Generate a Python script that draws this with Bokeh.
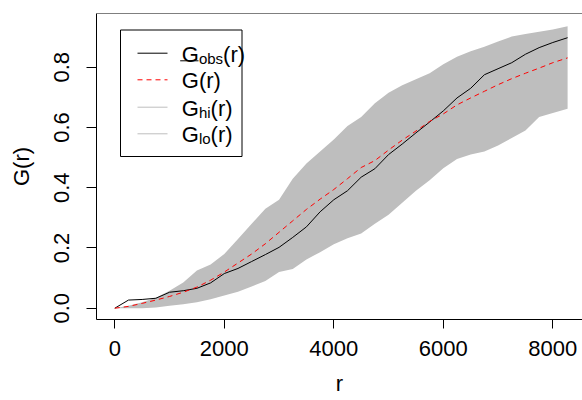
from bokeh.plotting import figure
from bokeh.models import Range1d, FixedTicker, Label, BoxAnnotation, Arrow, Span
from bokeh.embed import file_html
from bokeh.resources import INLINE

# ---- data ----
r = [0, 250, 500, 750, 1000, 1250, 1500, 1750, 2000, 2250, 2500, 2750, 3000,
     3250, 3500, 3750, 4000, 4250, 4500, 4750, 5000, 5250, 5500, 5750, 6000,
     6250, 6500, 6750, 7000, 7250, 7500, 7750, 8000, 8270]
g_obs = [0.0, 0.027, 0.029, 0.033, 0.053, 0.058, 0.066, 0.084, 0.115, 0.132,
         0.155, 0.178, 0.202, 0.235, 0.270, 0.320, 0.360, 0.390, 0.435, 0.463,
         0.510, 0.545, 0.582, 0.618, 0.655, 0.698, 0.730, 0.775, 0.795, 0.815,
         0.843, 0.865, 0.882, 0.898]
g_theo = [0.0, 0.006, 0.016, 0.027, 0.039, 0.053, 0.070, 0.093, 0.120, 0.150,
          0.180, 0.214, 0.252, 0.290, 0.328, 0.362, 0.394, 0.430, 0.467, 0.490,
          0.525, 0.558, 0.588, 0.620, 0.645, 0.675, 0.698, 0.720, 0.742, 0.762,
          0.780, 0.797, 0.815, 0.831]
g_hi = [0.0, 0.008, 0.020, 0.035, 0.058, 0.085, 0.125, 0.145, 0.180, 0.230,
        0.280, 0.330, 0.360, 0.430, 0.480, 0.520, 0.560, 0.605, 0.635, 0.680,
        0.715, 0.740, 0.760, 0.780, 0.810, 0.835, 0.853, 0.868, 0.885, 0.902,
        0.910, 0.918, 0.925, 0.936]
g_lo = [0.0, 0.0, 0.0, 0.002, 0.008, 0.013, 0.020, 0.030, 0.042, 0.055,
        0.072, 0.090, 0.120, 0.130, 0.162, 0.186, 0.212, 0.232, 0.248, 0.280,
        0.310, 0.350, 0.390, 0.425, 0.465, 0.495, 0.510, 0.520, 0.540, 0.565,
        0.590, 0.635, 0.648, 0.662]

x_ticks = [0, 2000, 4000, 6000, 8000]
y_ticks = [0.0, 0.2, 0.4, 0.6, 0.8]
y_tick_labels = ["0.0", "0.2", "0.4", "0.6", "0.8"]
x_title = "r"
y_title = "G(r)"

legend_rows = [("G", "obs", "(r)", "black", None),
               ("G", "", "(r)", "red", "5 4"),
               ("G", "hi", "(r)", "#BEBEBE", None),
               ("G", "lo", "(r)", "#BEBEBE", None)]

FONT = "Liberation Sans"
BAND = "#BEBEBE"

# ---- layout geometry ----
W, H = 582, 400
FL, FR, FT, FB = 96, 582, 13, 319          # frame edges in canvas px
X0, X1 = -334.0, 8542.0
Y0, Y1 = -0.0375, 0.9783

p = figure(width=W, height=H, output_backend="svg", toolbar_location=None,
           x_range=Range1d(X0, X1), y_range=Range1d(Y0, Y1),
           min_border_left=FL, min_border_right=W - FR, min_border_top=FT,
           min_border_bottom=H - FB, background_fill_color="white",
           border_fill_color="white")
p.grid.visible = False
p.outline_line_color = None

p.varea(x=r, y1=g_lo, y2=g_hi, fill_color=BAND, fill_alpha=1.0)
p.line(r, g_obs, line_color="black", line_width=1)
p.line(r, g_theo, line_color="red", line_width=1, line_dash="5 4")

# top border of the box
p.add_layout(Span(location=Y1, dimension="width", line_color="black", line_width=1))

for ax in (p.xaxis[0], p.yaxis[0]):
    ax.axis_line_color = "black"
    ax.axis_line_width = 1
    ax.major_tick_line_color = "black"
    ax.major_tick_in = 0
    ax.minor_tick_line_color = None
    ax.major_label_text_font = FONT
    ax.major_label_text_font_size = "22px"
    ax.major_label_text_color = "black"
    ax.axis_label_text_font = FONT
    ax.axis_label_text_font_size = "22px"
    ax.axis_label_text_font_style = "normal"
    ax.axis_label_text_color = "black"

p.xaxis[0].ticker = FixedTicker(ticks=x_ticks)
p.xaxis[0].major_tick_out = 9
p.xaxis[0].major_label_standoff = 12
p.xaxis[0].axis_label = x_title
p.xaxis[0].axis_label_standoff = 12

p.yaxis[0].ticker = FixedTicker(ticks=y_ticks)
p.yaxis[0].major_label_overrides = {t: s for t, s in zip(y_ticks, y_tick_labels)}
p.yaxis[0].major_tick_out = 10
p.yaxis[0].major_label_standoff = 17
p.yaxis[0].major_label_orientation = "vertical"
p.yaxis[0].axis_label = y_title
p.yaxis[0].axis_label_standoff = 18


# ---- pixel -> data helpers for the hand-drawn legend ----
def dx(cx):
    return X0 + (cx - FL) * (X1 - X0) / (FR - FL)


def dy(cy):
    return Y0 + (FB - cy) * (Y1 - Y0) / (FB - FT)


# ---- legend (drawn by hand so that subscripts can be shown) ----
p.add_layout(BoxAnnotation(left=dx(120), right=dx(241.5), top=dy(29.5), bottom=dy(156),
                           fill_color="white", fill_alpha=1.0, line_color="black",
                           line_alpha=1.0, line_width=1))

row_y = [52.7, 79.3, 106.7, 133.3]
G_W = 0.778 * 22
for (main, sub, tail, col, dash), ry in zip(legend_rows, row_y):
    kw = dict(line_color=col, line_width=1)
    if dash:
        kw["line_dash"] = dash
    p.add_layout(Arrow(end=None, x_start=dx(137), y_start=dy(ry), x_end=dx(167),
                       y_end=dy(ry), **kw))
    base = ry + 1
    xg = 181.3
    p.add_layout(Label(x=dx(xg), y=dy(base), text=main, text_font=FONT,
                       text_font_size="22px", text_baseline="alphabetic",
                       text_align="left", text_color="black"))
    xt = xg + G_W
    if sub:
        p.add_layout(Label(x=dx(xt), y=dy(base + 4), text=sub, text_font=FONT,
                           text_font_size="15px", text_baseline="alphabetic",
                           text_align="left", text_color="black"))
        sub_w = {"obs": 1.612, "hi": 0.778, "lo": 0.778}[sub] * 15
        xt += sub_w
    p.add_layout(Label(x=dx(xt), y=dy(base), text=tail, text_font=FONT,
                       text_font_size="22px", text_baseline="alphabetic",
                       text_align="left", text_color="black"))

# bar over the mean curve's G
p.add_layout(Arrow(end=None, x_start=dx(179.7), y_start=dy(60.3), x_end=dx(198),
                   y_end=dy(60.3), line_color="black", line_width=1))

open("out.html", "w").write(file_html(p, INLINE))
